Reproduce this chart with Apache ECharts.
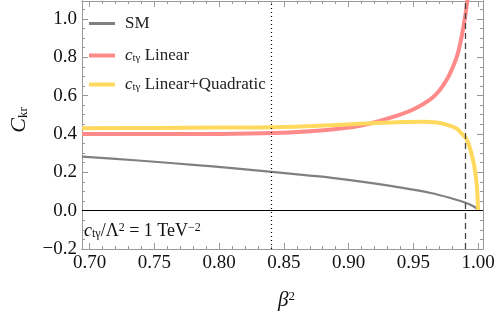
<!DOCTYPE html>
<html><head><meta charset="utf-8">
<script src="https://cdn.jsdelivr.net/npm/echarts@6/dist/echarts.min.js"></script>
<style>html,body{margin:0;padding:0;background:#fff}#c{width:498px;height:316px}</style>
</head><body><div id="c"></div>
<script>
// ---- data ----
const smBeta  = [0.6941,0.72,0.75,0.78,0.81,0.8429,0.87,0.8871,0.9125,0.938,0.9634,0.9786,0.9909,0.996,0.999,1.0];
const smC     = [0.282,0.270,0.255,0.239,0.222,0.201,0.183,0.171,0.149,0.123,0.092,0.066,0.040,0.024,0.010,0.0];
const linBeta = [0.6941,0.72,0.76,0.80,0.8429,0.87,0.8871,0.90,0.9125,0.9253,0.938,0.9507,0.9634,0.97,0.9761,0.980,0.9838,0.9865,0.9888,0.9918,0.9935];
const linC    = [0.400,0.399,0.399,0.400,0.405,0.414,0.423,0.433,0.447,0.471,0.497,0.530,0.582,0.625,0.686,0.740,0.807,0.880,0.963,1.100,1.25];
const quadBeta= [0.6941,0.75,0.80,0.8429,0.8894,0.9125,0.938,0.9583,0.968,0.9735,0.979,0.9838,0.9888,0.9909,0.9939,0.997,0.999,1.0];
const quadC   = [0.430,0.431,0.433,0.435,0.446,0.454,0.461,0.464,0.460,0.452,0.441,0.426,0.391,0.375,0.322,0.235,0.131,0.0];
const xTickLabels = [0.70,0.75,0.80,0.85,0.90,0.95,1.00];
const yTickLabels = [-0.2,0.0,0.2,0.4,0.6,0.8,1.0];
const dottedAt = 0.8446;
const dashedAt = 0.9912;
const seriesNames = ['SM','ctγ Linear','ctγ Linear+Quadratic'];

const xMinor = []; for (let i = 70; i <= 100; i++) xMinor.push(i/100);
const yMinor = []; for (let i = -4; i <= 21; i++) yMinor.push(i/20);

const FONT = 'Liberation Serif';
const frame = '#999999';
const X0 = 0.6941, X1 = 1.0038, Y0 = -0.2, Y1 = 1.093;

function xAx(pos, ticks, len, labels) {
  return {
    type:'value', position: pos, min: X0, max: X1,
    axisLine:{show:true, onZero:false, lineStyle:{color:frame, width:1}},
    axisTick:{show:true, inside:true, length:len, customValues:ticks, lineStyle:{color:frame, width:1}},
    axisLabel: labels ? {show:true, customValues:xTickLabels, formatter:v=>v.toFixed(2), fontFamily:FONT, fontSize:19, color:'#111', margin:5} : {show:false},
    splitLine:{show:false}
  };
}
function yAx(pos, ticks, len, labels) {
  return {
    type:'value', position: pos, min: Y0, max: Y1,
    axisLine:{show:true, onZero:false, lineStyle:{color:frame, width:1}},
    axisTick:{show:true, inside:true, length:len, customValues:ticks, lineStyle:{color:frame, width:1}},
    axisLabel: labels ? {show:true, customValues:yTickLabels, formatter:v=>(v<0?'\u2212':'')+Math.abs(v).toFixed(1), fontFamily:FONT, fontSize:19, color:'#111', margin:5} : {show:false},
    splitLine:{show:false}
  };
}

const xAxes = [xAx('bottom', xTickLabels, 6, true), xAx('bottom', xMinor, 3, false), xAx('top', xTickLabels, 6, false), xAx('top', xMinor, 3, false)];
xAxes[0].name = '{b|β}{p|2}';
xAxes[0].nameLocation = 'middle';
xAxes[0].nameGap = 41;
xAxes[0].nameTextStyle = {padding:[0,0,0,8], rich:{b:{fontFamily:FONT, fontStyle:'italic', fontSize:21, color:'#111'}, p:{fontFamily:FONT, fontSize:13, verticalAlign:'top', color:'#111'}}};
const yAxes = [yAx('left', yTickLabels, 6, true), yAx('left', yMinor, 3, false), yAx('right', yTickLabels, 6, false), yAx('right', yMinor, 3, false)];
yAxes[0].name = '{c|C}{s|kr}';
yAxes[0].nameLocation = 'middle';
yAxes[0].nameGap = 52;
yAxes[0].nameRotate = 90;
yAxes[0].nameTextStyle = {padding:[0,0,0,10], rich:{c:{fontFamily:FONT, fontStyle:'italic', fontSize:22, color:'#111'}, s:{fontFamily:FONT, fontSize:13, verticalAlign:'bottom', color:'#111'}}};

const legRich = {
  i:{fontFamily:FONT, fontStyle:'italic', fontSize:17, color:'#222'},
  s:{fontFamily:FONT, fontSize:11, verticalAlign:'bottom', color:'#222'},
  t:{fontFamily:FONT, fontSize:17, color:'#222'}
};
function legFmt(n){ if (n === 'SM') return '{t|SM}'; return '{i|c}{s|tγ}{t|' + n.slice(3) + '}'; }

const mk = (xs, ys) => xs.map((x,i)=>[x, ys[i]]);

const option = {
  animation:false,
  grid:{left:77, right:15, top:1, bottom:65, containLabel:false},
  xAxis: xAxes,
  yAxis: yAxes,
  legend:[
    {data:[seriesNames[0]], left:84, top:10, orient:'vertical', icon:'rect', itemWidth:26, itemHeight:3, formatter:legFmt, textStyle:{padding:[0,0,0,5], rich:legRich}},
    {data:[seriesNames[1], seriesNames[2]], left:84, top:42, orient:'vertical', icon:'rect', itemWidth:26, itemHeight:4, itemGap:12, formatter:legFmt, textStyle:{padding:[0,0,0,5], rich:legRich}}
  ],
  graphic:[{
    type:'text', left:84, top:222,
    style:{text:'{i|c}{s|tγ}{t|/Λ}{p|2}{t| = 1 TeV}{p|−2}', rich:{
      i:{fontFamily:FONT, fontStyle:'italic', fontSize:18, fill:'#111'},
      s:{fontFamily:FONT, fontSize:12, verticalAlign:'bottom', fill:'#111'},
      t:{fontFamily:FONT, fontSize:18, fill:'#111'},
      p:{fontFamily:FONT, fontSize:12, verticalAlign:'top', fill:'#111'}
    }}
  }],
  series:[
    {name:seriesNames[0], type:'line', data:mk(smBeta, smC), showSymbol:false, smooth:0.4, color:'#808080', lineStyle:{width:2.2, color:'#808080'},
     markLine:{silent:true, symbol:'none', label:{show:false}, animation:false, data:[
       {yAxis:0, lineStyle:{color:'#000', width:1, type:'solid'}},
       {xAxis:dottedAt, lineStyle:{color:'#000', width:1.2, type:[1,3]}},
       {xAxis:dashedAt, lineStyle:{color:'#444', width:1.3, type:[6,4]}}
     ]}},
    {name:seriesNames[1], type:'line', data:mk(linBeta, linC), showSymbol:false, smooth:0.4, color:'#FF8A8A', lineStyle:{width:4, color:'#FF8A8A'}},
    {name:seriesNames[2], type:'line', data:mk(quadBeta, quadC), showSymbol:false, smooth:0.4, color:'#FFD95E', lineStyle:{width:4, color:'#FFD95E'}}
  ]
};
echarts.init(document.getElementById('c')).setOption(option);
</script></body></html>
